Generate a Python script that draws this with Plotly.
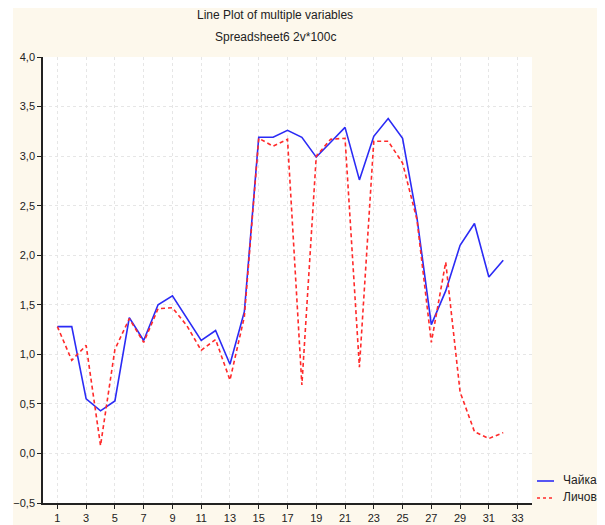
import plotly.graph_objects as go

# ---- data ----
x_vals = list(range(1, 33))
chayka = [1.28, 1.28, 0.55, 0.43, 0.53, 1.37, 1.14, 1.50, 1.59, 1.37,
          1.14, 1.24, 0.90, 1.43, 3.19, 3.19, 3.26, 3.19, 2.99, 3.14,
          3.29, 2.76, 3.20, 3.38, 3.18, 2.38, 1.30, 1.64, 2.10, 2.32,
          1.78, 1.95]
lichove = [1.28, 0.94, 1.09, 0.08, 1.05, 1.36, 1.12, 1.46, 1.47, 1.29,
           1.04, 1.15, 0.74, 1.38, 3.18, 3.10, 3.17, 0.69, 3.00, 3.17,
           3.18, 0.87, 3.15, 3.15, 2.93, 2.36, 1.12, 1.93, 0.62, 0.22,
           0.15, 0.21]
series_names = ["Чайка", "Личове"]
x_ticks = list(range(1, 34, 2))
y_ticks = [-0.5, 0.0, 0.5, 1.0, 1.5, 2.0, 2.5, 3.0, 3.5, 4.0]
title_lines = ["Line Plot of multiple variables", "Spreadsheet6 2v*100c"]

FONT = "Liberation Sans, Arial, sans-serif"
OFF = 8  # page body margin
W, H = 605 - OFF, 525 - OFF
L, T = 43 - OFF, 57 - OFF
pw, ph = 489, 446
R, B = W - L - pw, H - T - ph

def px_x(p):  # page pixel -> paper
    return (p - OFF - L) / pw

def px_y(p):
    return (T + ph - (p - OFF)) / ph

BLUE = "#2b2bf5"
RED = "#ff2a2a"
RED_DASH = "4px,3px"

fig = go.Figure()
fig.add_trace(go.Scatter(x=x_vals, y=chayka, mode="lines", name=series_names[0],
                         line=dict(color=BLUE, width=1.6), showlegend=False))
fig.add_trace(go.Scatter(x=x_vals, y=lichove, mode="lines", name=series_names[1],
                         line=dict(color=RED, width=1.6, dash=RED_DASH), showlegend=False))

cream = "#fdf8ec"
shapes = [
    dict(type="rect", xref="paper", yref="paper", x0=px_x(0), x1=px_x(13),
         y0=px_y(H + 20), y1=px_y(-5), fillcolor="white", line=dict(width=0), layer="below"),
    # legend samples
    dict(type="line", xref="paper", yref="paper", x0=px_x(537), x1=px_x(554),
         y0=px_y(481), y1=px_y(481), line=dict(color=BLUE, width=1.6)),
    dict(type="line", xref="paper", yref="paper", x0=px_x(537), x1=px_x(554),
         y0=px_y(498), y1=px_y(498), line=dict(color=RED, width=1.6, dash="3px,3px")),
]

annotations = [
    dict(text=title_lines[0], xref="paper", yref="paper", x=px_x(275), y=px_y(15),
         xanchor="center", yanchor="middle",
         showarrow=False, font=dict(family=FONT, size=12, color="#222")),
    dict(text=title_lines[1], xref="paper", yref="paper", x=px_x(275), y=px_y(37),
         xanchor="center", yanchor="middle",
         showarrow=False, font=dict(family=FONT, size=12, color="#222")),
    dict(text=series_names[0], xref="paper", yref="paper", x=px_x(561), y=px_y(480),
         xanchor="left", yanchor="middle",
         showarrow=False, font=dict(family=FONT, size=12, color="#222")),
    dict(text=series_names[1], xref="paper", yref="paper", x=px_x(561), y=px_y(497),
         xanchor="left", yanchor="middle",
         showarrow=False, font=dict(family=FONT, size=12, color="#222")),
]

fig.update_layout(
    width=W, height=H,
    margin=dict(l=L, r=R, t=T, b=B, pad=0, autoexpand=False),
    paper_bgcolor=cream,
    plot_bgcolor="white",
    separators=",.",
    font=dict(family=FONT, size=11, color="#222"),
    showlegend=False,
    shapes=shapes,
    annotations=annotations,
    xaxis=dict(range=[0, 34], tickvals=x_ticks, ticks="outside", ticklen=4,
               tickcolor="#222", showline=True, linecolor="#222", linewidth=1.5,
               showgrid=True, gridcolor="#e6e6e6", griddash="dot", gridwidth=1,
               zeroline=False, automargin=False,
               tickfont=dict(family=FONT, size=11, color="#222")),
    yaxis=dict(range=[-0.5, 4.0], tickvals=y_ticks, tickformat=".1f", ticks="outside",
               ticklen=4, tickcolor="#222", showline=True, linecolor="#222", linewidth=1.5,
               showgrid=True, gridcolor="#e6e6e6", griddash="dot", gridwidth=1,
               zeroline=False, automargin=False,
               tickfont=dict(family=FONT, size=11, color="#222")),
    xaxis2=dict(range=[0, 34], tickvals=x_ticks, overlaying="x", side="top",
                ticks="inside", ticklen=4, tickcolor="#222", showticklabels=False,
                showline=True, linecolor="#222", linewidth=1.5, showgrid=False,
                zeroline=False, automargin=False),
    yaxis2=dict(range=[-0.5, 4.0], tickvals=y_ticks, overlaying="y", side="right",
                ticks="inside", ticklen=4, tickcolor="#333", showticklabels=False,
                showline=True, linecolor="#666", linewidth=2, showgrid=False,
                zeroline=False, automargin=False),
)

fig.write_html("out.html")
